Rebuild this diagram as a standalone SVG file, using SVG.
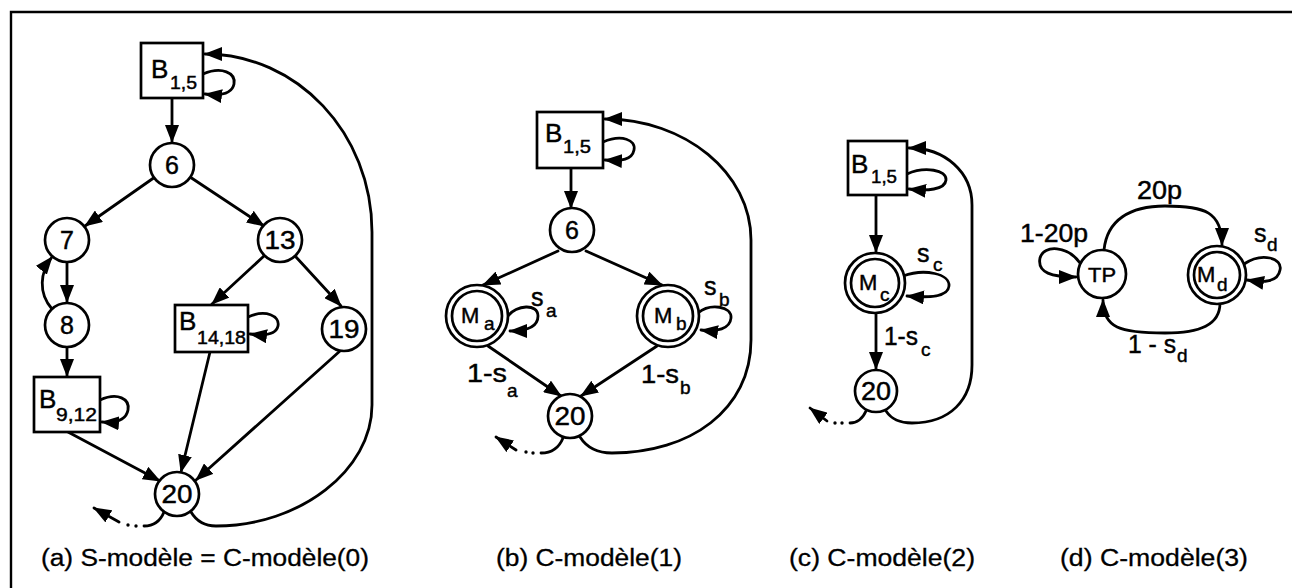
<svg xmlns="http://www.w3.org/2000/svg" width="1292" height="588" viewBox="0 0 1292 588">
  <style>
    .ln { fill: none; stroke: #000; stroke-width: 2.8; stroke-linecap: round; }
    .arr { marker-end: url(#ah); }
    .nd { fill: #fff; stroke: #000; stroke-width: 2.7; }
    .frame { fill: none; stroke: #000; stroke-width: 2.4; }
    text { font-family: "Liberation Sans", Arial, Helvetica, sans-serif; fill: #000; stroke: #000; stroke-width: 0.45px; }
    .num { font-size: 25px; text-anchor: middle; }
    .big { font-size: 26px; }
    .sub { font-size: 18px; }
    .lab { font-size: 25px; }
    .lsub { font-size: 19px; }
    .m { font-size: 22px; }
    .cap { font-size: 23px; stroke-width: 0.3px; }
    .dot { fill: #000; }
  </style>
  <defs>
    <marker id="ah" viewBox="0 0 18 14" refX="17" refY="7" markerWidth="18" markerHeight="14" orient="auto" markerUnits="userSpaceOnUse">
      <path d="M0,0 L18,7 L0,14 z" fill="#000"/>
    </marker>
  </defs>

  <rect width="1292" height="588" fill="#fff"/>

  <!-- outer frame: top and left rules -->
  <path class="frame" d="M1292,12 L11,12 L11,588"/>

  <!-- ===== connectors ===== -->
  <g id="connectors">
    <!-- (a) -->
    <path class="ln arr" d="M172,98 L172,142"/>
    <path class="ln arr" d="M203,74 C222,66 236,73 234,84 C232,94 221,96 205,94"/>
    <path class="ln arr" d="M155,177 L85,226"/>
    <path class="ln arr" d="M190,177 L264,226"/>
    <path class="ln arr" d="M67,262 L67,302"/>
    <path class="ln arr" d="M52,309 C38,293 40,272 52,257"/>
    <path class="ln arr" d="M67,347 L67,376"/>
    <path class="ln arr" d="M264,256 L212,304"/>
    <path class="ln arr" d="M296,257 L341,306"/>
    <path class="ln arr" d="M248,317 C266,309 280,316 278,326 C276,335 265,336 250,334"/>
    <path class="ln arr" d="M100,400 C118,392 130,399 128,410 C126,421 115,423 102,422"/>
    <path class="ln arr" d="M68,432 L160,481"/>
    <path class="ln arr" d="M210,352 L181,472"/>
    <path class="ln arr" d="M340,351 L196,480"/>
    <path class="ln" d="M164,512 C160,522 153,526 144,526"/>
    <circle class="dot" cx="136" cy="526" r="1.7"/>
    <circle class="dot" cx="128" cy="525" r="1.7"/>
    <path class="ln arr" d="M119,522 L94,508"/>
    <path class="ln arr" d="M191,512 C197,522 205,526 216,526 C300,526 372,470 372,405 L372,232 C372,133 297,54 205,54"/>

    <!-- (b) -->
    <path class="ln arr" d="M571,168 L571,208"/>
    <path class="ln arr" d="M603,142 C622,134 636,140 634,150 C632,160 622,161 605,160"/>
    <path class="ln arr" d="M558,251 L483,285"/>
    <path class="ln arr" d="M586,251 L662,285"/>
    <path class="ln arr" d="M508,316 C516,305 538,303 538,316 C538,327 526,331 510,331"/>
    <path class="ln arr" d="M698,313 C710,303 732,306 731,318 C730,329 717,332 701,330"/>
    <path class="ln arr" d="M488,346 L561,396"/>
    <path class="ln arr" d="M657,346 L581,396"/>
    <path class="ln" d="M563,438 C559,448 551,453 541,453"/>
    <circle class="dot" cx="533" cy="453" r="1.7"/>
    <circle class="dot" cx="526" cy="452" r="1.7"/>
    <path class="ln arr" d="M516,450 L496,437"/>
    <path class="ln arr" d="M580,437 C587,448 597,453 612,453 C690,453 751,410 751,340 L751,240 C751,173 685,119 605,119"/>

    <!-- (c) -->
    <path class="ln arr" d="M876,195 L876,252"/>
    <path class="ln arr" d="M907,174 C925,166 947,170 946,180 C945,190 927,191 909,189"/>
    <path class="ln arr" d="M903,276 C925,268 950,274 949,286 C948,297 930,298 907,296"/>
    <path class="ln arr" d="M876,313 L876,369"/>
    <path class="ln" d="M866,411 C862,420 856,423 850,423"/>
    <circle class="dot" cx="842" cy="423" r="1.7"/>
    <circle class="dot" cx="835" cy="423" r="1.7"/>
    <path class="ln arr" d="M827,421 L810,408"/>
    <path class="ln arr" d="M886,411 C892,420 900,423 912,423 C950,423 972,400 972,365 L972,205 C972,172 945,148 909,148"/>

    <!-- (d) -->
    <path class="ln arr" d="M1080,263 C1068,246 1044,244 1040,258 C1037,273 1052,277 1076,277"/>
    <path class="ln arr" d="M1104,250 C1107,220 1130,206 1165,206 C1205,206 1222,212 1222,245"/>
    <path class="ln arr" d="M1244,264 C1262,252 1283,258 1280,270 C1278,282 1264,283 1247,280"/>
    <path class="ln arr" d="M1220,303 C1220,325 1200,333 1165,333 C1120,333 1103,328 1103,300"/>
  </g>

  <!-- ===== (a) S-modèle = C-modèle(0) ===== -->
  <g id="a-B1-5">
    <rect class="nd" x="141" y="43" width="62" height="55"/>
    <text class="big" x="151" y="78">B</text>
    <text class="sub" x="170" y="89" textLength="27" lengthAdjust="spacingAndGlyphs">1,5</text>
  </g>
  <g id="a-n6">
    <circle class="nd" cx="172" cy="165" r="22"/>
    <text class="num" x="172" y="174">6</text>
  </g>
  <g id="a-n7">
    <circle class="nd" cx="67" cy="240" r="22"/>
    <text class="num" x="67" y="249">7</text>
  </g>
  <g id="a-n13">
    <circle class="nd" cx="280" cy="240" r="22"/>
    <text class="num" x="280" y="249" textLength="31" lengthAdjust="spacingAndGlyphs">13</text>
  </g>
  <g id="a-n8">
    <circle class="nd" cx="67" cy="325" r="22"/>
    <text class="num" x="67" y="334">8</text>
  </g>
  <g id="a-B14-18">
    <rect class="nd" x="175" y="305" width="73" height="47"/>
    <text class="big" x="179" y="330">B</text>
    <text class="sub" x="197" y="344" textLength="49" lengthAdjust="spacingAndGlyphs">14,18</text>
  </g>
  <g id="a-n19">
    <circle class="nd" cx="344" cy="329" r="22"/>
    <text class="num" x="344" y="338" textLength="31" lengthAdjust="spacingAndGlyphs">19</text>
  </g>
  <g id="a-B9-12">
    <rect class="nd" x="34" y="377" width="66" height="55"/>
    <text class="big" x="39" y="408">B</text>
    <text class="sub" x="56" y="421" textLength="41" lengthAdjust="spacingAndGlyphs">9,12</text>
  </g>
  <g id="a-n20">
    <circle class="nd" cx="177" cy="494" r="22"/>
    <text class="num" x="177" y="503" textLength="31" lengthAdjust="spacingAndGlyphs">20</text>
  </g>

  <!-- ===== (b) C-modèle(1) ===== -->
  <g id="b-B1-5">
    <rect class="nd" x="537" y="112" width="66" height="56"/>
    <text class="big" x="545" y="142">B</text>
    <text class="sub" x="563" y="153" textLength="28" lengthAdjust="spacingAndGlyphs">1,5</text>
  </g>
  <g id="b-n6">
    <circle class="nd" cx="572" cy="230" r="22"/>
    <text class="num" x="572" y="239">6</text>
  </g>
  <g id="b-Ma">
    <circle class="nd" cx="477" cy="316" r="31"/>
    <circle class="nd" cx="477" cy="316" r="25"/>
    <text class="m" x="461" y="323">M</text>
    <text class="lsub" x="484" y="330">a</text>
  </g>
  <g id="b-Mb">
    <circle class="nd" cx="668" cy="316" r="31"/>
    <circle class="nd" cx="668" cy="316" r="25"/>
    <text class="m" x="654" y="323">M</text>
    <text class="lsub" x="676" y="330">b</text>
  </g>
  <g id="b-n20">
    <circle class="nd" cx="570" cy="416" r="22"/>
    <text class="num" x="570" y="425" textLength="31" lengthAdjust="spacingAndGlyphs">20</text>
  </g>
  <g id="b-labels">
    <text class="lab" x="531" y="306">s</text>
    <text class="lsub" x="546" y="317">a</text>
    <text class="lab" x="704" y="295">s</text>
    <text class="lsub" x="719" y="306">b</text>
    <text class="lab" x="467" y="382" textLength="40" lengthAdjust="spacingAndGlyphs">1-s</text>
    <text class="lsub" x="507" y="397">a</text>
    <text class="lab" x="641" y="383" textLength="38" lengthAdjust="spacingAndGlyphs">1-s</text>
    <text class="lsub" x="680" y="394">b</text>
  </g>

  <!-- ===== (c) C-modèle(2) ===== -->
  <g id="c-B1-5">
    <rect class="nd" x="848" y="141" width="59" height="54"/>
    <text class="big" x="851" y="173">B</text>
    <text class="sub" x="871" y="183" textLength="26" lengthAdjust="spacingAndGlyphs">1,5</text>
  </g>
  <g id="c-Mc">
    <circle class="nd" cx="875" cy="283" r="30"/>
    <circle class="nd" cx="875" cy="283" r="24"/>
    <text class="m" x="859" y="290">M</text>
    <text class="lsub" x="880" y="301">c</text>
  </g>
  <g id="c-n20">
    <circle class="nd" cx="876" cy="391" r="21"/>
    <text class="num" x="876" y="400" textLength="30" lengthAdjust="spacingAndGlyphs">20</text>
  </g>
  <g id="c-labels">
    <text class="lab" x="917" y="262">s</text>
    <text class="lsub" x="933" y="271">c</text>
    <text class="lab" x="884" y="345" textLength="34" lengthAdjust="spacingAndGlyphs">1-s</text>
    <text class="lsub" x="921" y="356">c</text>
  </g>

  <!-- ===== (d) C-modèle(3) ===== -->
  <g id="d-TP">
    <circle class="nd" cx="1102" cy="274" r="24"/>
    <text x="1102" y="282" font-size="21" text-anchor="middle" textLength="28" lengthAdjust="spacingAndGlyphs">TP</text>
  </g>
  <g id="d-Md">
    <circle class="nd" cx="1217" cy="275" r="29"/>
    <circle class="nd" cx="1217" cy="275" r="23"/>
    <text class="m" x="1197" y="282">M</text>
    <text class="lsub" x="1217" y="291">d</text>
  </g>
  <g id="d-labels">
    <text class="lab" x="1020" y="242" textLength="68" lengthAdjust="spacingAndGlyphs">1-20p</text>
    <text class="lab" x="1137" y="199" textLength="45" lengthAdjust="spacingAndGlyphs">20p</text>
    <text class="lab" x="1254" y="242">s</text>
    <text class="lsub" x="1267" y="251">d</text>
    <text class="lab" x="1128" y="353" textLength="48" lengthAdjust="spacingAndGlyphs">1 - s</text>
    <text class="lsub" x="1177" y="362">d</text>
  </g>

  <!-- ===== captions ===== -->
  <g id="captions">
    <text class="cap" x="41" y="566" textLength="328" lengthAdjust="spacingAndGlyphs">(a) S-modèle = C-modèle(0)</text>
    <text class="cap" x="496" y="566" textLength="186" lengthAdjust="spacingAndGlyphs">(b) C-modèle(1)</text>
    <text class="cap" x="789" y="566" textLength="186" lengthAdjust="spacingAndGlyphs">(c) C-modèle(2)</text>
    <text class="cap" x="1060" y="566" textLength="188" lengthAdjust="spacingAndGlyphs">(d) C-modèle(3)</text>
  </g>
</svg>
